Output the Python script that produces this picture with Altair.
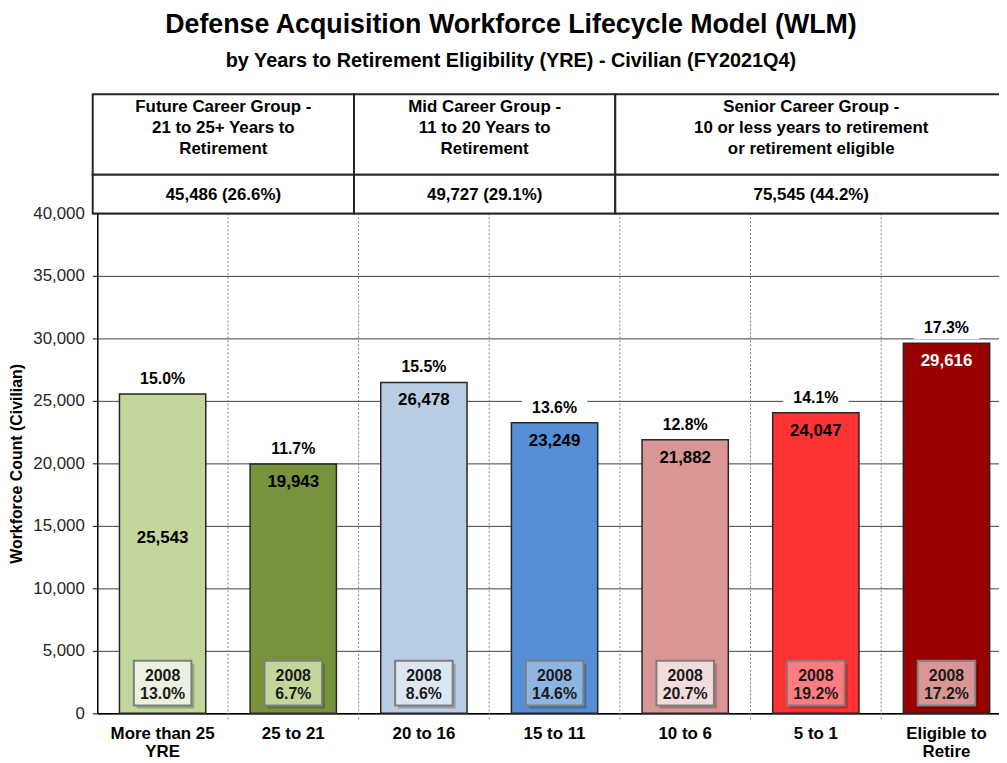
import altair as alt
import pandas as pd

# ---------------- data ----------------
categories = ["More than 25\nYRE", "25 to 21", "20 to 16", "15 to 11", "10 to 6", "5 to 1", "Eligible to\nRetire"]
counts = [25543, 19943, 26478, 23249, 21882, 24047, 29616]
shares = ["15.0%", "11.7%", "15.5%", "13.6%", "12.8%", "14.1%", "17.3%"]
shares_2008 = ["13.0%", "6.7%", "8.6%", "14.6%", "20.7%", "19.2%", "17.2%"]
bar_colors = ["#C3D69B", "#77933C", "#B9CDE5", "#558ED5", "#D99694", "#FF3333", "#990000"]
box_colors = ["#EBF1DE", "#C3D69B", "#DCE6F2", "#8EB4E3", "#F2DCDB", "#FF7C80", "#D99694"]
count_label_colors = ["black", "black", "black", "black", "black", "black", "white"]
count_label_mid = [True, False, False, False, False, False, False]

group_titles = [
    "Future Career Group -\n21 to 25+ Years to\nRetirement",
    "Mid Career Group -\n11 to 20 Years to\nRetirement",
    "Senior Career Group -\n10 or less years to retirement\nor retirement eligible",
]
group_totals = ["45,486 (26.6%)", "49,727 (29.1%)", "75,545 (44.2%)"]
group_first = [0, 2, 4]
group_last = [1, 3, 6]

title_text = "Defense Acquisition Workforce Lifecycle Model (WLM)"
subtitle_text = "by Years to Retirement Eligibility (YRE) - Civilian (FY2021Q4)"

y_ticks = [0, 5000, 10000, 15000, 20000, 25000, 30000, 35000, 40000]

# ---------------- layout ----------------
W, H = 909, 504
X_MAX = 6.902
PX_PER_UNIT = H / 40000.0
NUDGE = 0.035
FONT = "Liberation Sans"

n = len(categories)
bars = pd.DataFrame({
    "pos": [i + 0.5 for i in range(n)],
    "cat": categories,
    "count": counts,
    "share": shares,
    "box_text": ["2008\n" + s for s in shares_2008],
    "bar_color": bar_colors,
    "box_color": box_colors,
    "lab_color": count_label_colors,
    "zero": [0] * n,
    "top": [40000] * n,
})
bars["count_y"] = [c * 0.55 if m else c - 18 / PX_PER_UNIT for c, m in zip(counts, count_label_mid)]
bars["count_txt"] = [f"{c:,}" for c in counts]

dividers = pd.DataFrame({"b": [i + 1 for i in range(n - 1)], "zero": 0, "top": 40000})

groups = pd.DataFrame({
    "x0": [f - NUDGE for f in group_first],
    "x1": [l + 1 - NUDGE for l in group_last],
    "title": group_titles,
    "total": group_totals,
})
groups["xc"] = (groups["x0"] + groups["x1"]) / 2

titles = pd.DataFrame({"t": [title_text], "s": [subtitle_text]})

xscale = alt.Scale(domain=[0, X_MAX], nice=False, zero=False, padding=0)
xaxis = alt.Axis(title=None, labels=False, ticks=False, grid=False,
                 domainColor="black", domainWidth=1.5)
yscale = alt.Scale(domain=[0, 40000], nice=False, zero=True, padding=0)
yaxis = alt.Axis(values=y_ticks, format=",d", title="Workforce Count (Civilian)",
                 titleFont=FONT, titleFontSize=16, titleFontWeight="bold", titleColor="black",
                 titlePadding=8,
                 labelFont=FONT, labelFontSize=17, labelColor="#262626", labelPadding=8,
                 tickSize=5, tickColor="black", domainColor="black", domainWidth=1.5,
                 gridColor="#404040", gridWidth=1)


def X(f):
    return alt.X(f + ":Q", scale=xscale, axis=xaxis)


def Y(f):
    return alt.Y(f + ":Q", scale=yscale, axis=yaxis)


base = alt.Chart(bars)

divider_layer = alt.Chart(dividers).mark_rule(
    color="#7F7F7F", strokeDash=[2, 2], strokeWidth=1, yOffset=6
).encode(x=X("b"), y=Y("zero"), y2="top:Q")

bar_layer = base.mark_bar(size=87, stroke="#262626", strokeWidth=1.5).encode(
    x=X("pos"), y=Y("count"), y2="zero:Q",
    color=alt.Color("bar_color:N", scale=None),
)

share_bg = base.mark_rect(color="white", xOffset=-33, x2Offset=33, yOffset=-25, y2Offset=-4).encode(
    x=X("pos"), x2="pos:Q", y=Y("count"), y2="count:Q"
)
share_text = base.mark_text(font=FONT, fontSize=16, fontWeight="bold", color="black",
                            baseline="middle", dy=-15).encode(
    x=X("pos"), y=Y("count"), text="share:N"
)
count_text = base.mark_text(font=FONT, fontSize=17, fontWeight="bold", baseline="middle").encode(
    x=X("pos"), y=Y("count_y"), text="count_txt:N",
    color=alt.Color("lab_color:N", scale=None),
)

box_shadow = base.mark_rect(color="#000000", opacity=0.22,
                            xOffset=-26, x2Offset=32, yOffset=-5, y2Offset=-50).encode(
    x=X("pos"), x2="pos:Q", y=Y("zero"), y2="zero:Q"
)
box = base.mark_rect(stroke="#7F7F7F", strokeWidth=2,
                     xOffset=-29, x2Offset=29, yOffset=-8, y2Offset=-53).encode(
    x=X("pos"), x2="pos:Q", y=Y("zero"), y2="zero:Q",
    fill=alt.Fill("box_color:N", scale=None),
)
box_text = base.mark_text(font=FONT, fontSize=16, fontWeight="bold", color="#1a1a1a",
                          baseline="middle", lineBreak="\n", lineHeight=19, dy=-38).encode(
    x=X("pos"), y=Y("zero"), text="box_text:N"
)

xlabels = base.mark_text(font=FONT, fontSize=17, fontWeight="bold", color="black",
                         baseline="middle", lineBreak="\n", lineHeight=18, dy=21).encode(
    x=X("pos"), y=Y("zero"), text="cat:N"
)

gbase = alt.Chart(groups)
head_rect1 = gbase.mark_rect(fill="white", stroke="#262626", strokeWidth=2).encode(
    x=X("x0"), x2="x1:Q", y=alt.value(-120), y2=alt.value(-39)
)
head_rect2 = gbase.mark_rect(fill="white", stroke="#262626", strokeWidth=2).encode(
    x=X("x0"), x2="x1:Q", y=alt.value(-39), y2=alt.value(0)
)
head_title = gbase.mark_text(font=FONT, fontSize=17, fontWeight="bold", color="black",
                             baseline="middle", lineBreak="\n", lineHeight=21).encode(
    x=X("xc"), y=alt.value(-107), text="title:N"
)
head_total = gbase.mark_text(font=FONT, fontSize=17, fontWeight="bold", color="black",
                             baseline="middle").encode(
    x=X("xc"), y=alt.value(-19), text="total:N"
)

tbase = alt.Chart(titles)
main_title = tbase.mark_text(font=FONT, fontSize=27, fontWeight="bold", color="black",
                             baseline="middle", align="center").encode(
    x=alt.value(417), y=alt.value(-190), text="t:N"
)
sub_title = tbase.mark_text(font=FONT, fontSize=20, fontWeight="bold", color="black",
                            baseline="middle", align="center").encode(
    x=alt.value(417), y=alt.value(-154), text="s:N"
)

chart = alt.layer(
    divider_layer, bar_layer, share_bg, share_text, count_text,
    box_shadow, box, box_text, xlabels,
    head_rect1, head_rect2, head_title, head_total,
    main_title, sub_title,
).properties(
    width=W, height=H,
    autosize=alt.AutoSizeParams(type="none"),
    padding={"left": 90, "top": 204, "right": 0, "bottom": 47},
).configure_view(stroke=None).configure(background="white")

chart.save("out.html", embed_options={"renderer": "svg", "actions": False})
